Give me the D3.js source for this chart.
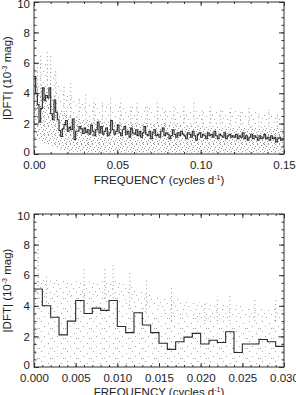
<!DOCTYPE html>
<html>
<head>
<meta charset="utf-8">
<script src="https://cdn.jsdelivr.net/npm/d3@7"></script>
<style>
  body { margin: 0; background: #fff; }
  text { font-family: "Liberation Sans", Arial, sans-serif; fill: #222; }
</style>
</head>
<body>
<div id="chartdiv"></div>
<script>
/* --- data --- */

// binned mean |DFT| per 0.001 cycles/d bin (10^-3 mag)
let binWidth = 0.001
let binValues = [
  5.1, 4.0, 3.25, 2.1, 3.0, 4.35, 3.5, 3.85, 3.7, 4.35,
  2.65, 2.25, 3.55, 2.75, 2.25, 1.55, 1.15, 1.65, 1.95, 2.2,
  1.5, 1.75, 1.6, 2.3, 0.95, 1.5, 1.5, 1.8, 1.65, 1.35,
  1.7, 1.4, 1.6, 1.3, 1.9, 1.5, 1.2, 1.6, 2.1, 1.4,
  1.8, 1.3, 1.5, 1.7, 1.2, 1.4, 2.2, 1.6, 1.3, 1.5,
  1.9, 1.4, 1.2, 1.6, 1.8, 1.3, 1.5, 1.1, 1.7, 1.4,
  1.3, 1.6, 1.2, 1.5, 1.1, 1.4, 1.8, 1.3, 1.2, 1.5,
  1.0, 1.4, 1.6, 1.2, 1.3, 1.1, 1.5, 1.7, 1.2, 1.4,
  1.3, 1.0, 1.2, 1.6, 1.3, 1.1, 1.4, 1.2, 1.5, 1.3,
  1.2, 1.0, 1.4, 1.3, 1.1, 1.5, 1.2, 0.9, 1.3, 1.4,
  1.1, 1.3, 1.2, 1.0, 1.4, 1.2, 1.3, 1.1, 1.5, 1.2,
  1.0, 1.3, 1.2, 1.1, 1.4, 1.0, 1.2, 1.3, 1.1, 1.2,
  1.1, 1.3, 1.0, 1.2, 1.1, 1.4, 1.0, 1.2, 0.9, 1.1,
  1.3, 1.0, 1.2, 1.1, 0.9, 1.2, 1.0, 1.1, 1.3, 1.0,
  1.1, 0.9, 1.2, 1.0, 1.1, 0.8, 1.0, 1.1, 0.9, 1.0
]

// point cloud of the full range panel: dense core and thinner upper part
let cloudFreq   = [0, 0.005, 0.01, 0.015, 0.02, 0.03, 0.04, 0.05, 0.07, 0.09, 0.11, 0.13, 0.15]
let cloudLow    = [1.0, 0.8, 0.6, 0.3, 0.2, 0.1, 0.1, 0.1, 0.1, 0.1, 0.1, 0.1, 0.1]
let cloudHigh   = [4.6, 4.4, 4.2, 3.0, 2.6, 2.3, 2.2, 2.1, 2.0, 1.9, 1.8, 1.8, 1.7]
let cloudTop    = [5.8, 6.0, 5.8, 4.8, 4.0, 3.4, 3.3, 3.2, 3.1, 3.0, 2.9, 2.8, 2.7]

// upper streaks of single points: frequency, low, high
let streakFreq = [0.002, 0.004, 0.008, 0.010, 0.013, 0.018, 0.022, 0.027, 0.031, 0.036,
                  0.041, 0.046, 0.052, 0.058, 0.062, 0.068, 0.074, 0.079, 0.084, 0.090,
                  0.096, 0.101, 0.106, 0.112, 0.118, 0.124, 0.129, 0.135, 0.141, 0.146]
let streakLow  = [3.0, 3.5, 4.0, 4.0, 3.0, 2.5, 2.5, 2.0, 2.0, 2.0,
                  2.0, 2.0, 2.0, 2.0, 2.0, 2.0, 2.0, 2.0, 2.0, 2.0,
                  2.0, 2.0, 2.0, 2.0, 1.9, 1.9, 1.9, 1.8, 1.8, 1.8]
let streakHigh = [6.0, 6.6, 6.8, 6.6, 5.5, 4.6, 4.8, 3.8, 4.0, 3.6,
                  3.4, 3.8, 3.6, 3.2, 3.5, 3.3, 3.6, 3.0, 3.3, 3.2,
                  3.6, 3.0, 3.3, 2.9, 3.2, 2.8, 3.1, 2.7, 2.9, 2.6]

// sparse cloud for the zoomed panel
let zoomCloudFreq = [0, 0.005, 0.010, 0.015, 0.020, 0.025, 0.030]
let zoomCloudLow  = [0.1, 0.1, 0.1, 0.1, 0.1, 0.1, 0.1]
let zoomCloudHigh = [4.8, 4.6, 4.6, 3.6, 3.2, 3.1, 3.0]
let zoomCloudTop  = [5.8, 5.6, 5.6, 4.6, 4.2, 4.0, 3.8]
let zoomStreakFreq = [0.0005, 0.0015, 0.006, 0.0085, 0.0095, 0.0115, 0.0135, 0.0165, 0.0205, 0.022, 0.0235, 0.0265, 0.029]
let zoomStreakLow  = [4.5, 4.0, 4.5, 4.5, 4.5, 4.0, 3.5, 3.0, 3.0, 3.0, 3.0, 3.0, 3.0]
let zoomStreakHigh = [8.3, 6.0, 6.5, 6.6, 6.8, 6.2, 5.8, 5.2, 4.2, 4.6, 4.8, 4.4, 4.5]

let yTicks = [0, 2, 4, 6, 8, 10]
let topXTicks = [0, 0.05, 0.10, 0.15]
let bottomXTicks = [0, 0.005, 0.010, 0.015, 0.020, 0.025, 0.030]

/* -------------------- */

let width = 296
let height = 395
let leftMargin = 34
let plotWidth = 250

let svg = d3.select('#chartdiv')
  .append('svg')
  .attr("width", width)
  .attr("height", height)

let defs = svg.append("defs")

// stipple tiles for the point clouds (dot offsets inside the tile)
function stipple(id, w, h, dots, colour){
  let p = defs.append("pattern").attr("id", id)
    .attr("width", w).attr("height", h).attr("patternUnits", "userSpaceOnUse")
  dots.forEach(d => p.append("rect").attr("x", d[0]).attr("y", d[1])
    .attr("width", 1).attr("height", 1).attr("fill", colour))
}
stipple("dense", 11, 9, [[0,0],[4,0],[8,1],[2,2],[6,3],[10,3],[1,4],[5,5],[9,5],[3,6],[7,7],[0,7],[10,8],[4,8]], "#999")
stipple("thin", 13, 11, [[1,1],[8,2],[4,5],[11,6],[6,9],[2,8]], "#aaa")
stipple("sparse", 13, 10, [[2,1],[9,3],[5,6],[0,8],[11,8]], "#a8a8a8")

function drawPanel(opt){
  let top = opt.top, h = opt.height
  let g = svg.append("g")
  let clipId = "clip" + top
  defs.append("clipPath").attr("id", clipId)
    .append("rect").attr("x", leftMargin).attr("y", top).attr("width", plotWidth).attr("height", h)

  let xscale = d3.scaleLinear().domain([0, opt.xMax]).range([leftMargin, leftMargin + plotWidth])
  let yscale = d3.scaleLinear().domain([0, 10]).range([top + h, top])

  let plot = g.append("g").attr("clip-path", `url(#${clipId})`)

  // point cloud
  let cloud = opt.cloudFreq.map((f, i) => [f, opt.cloudLow[i], opt.cloudHigh[i], opt.cloudTop[i]])
  plot.append("path")
    .attr("d", d3.area().x(d => xscale(d[0])).y0(d => yscale(d[2])).y1(d => yscale(d[3]))(cloud))
    .attr("fill", "url(#thin)")
  plot.append("path")
    .attr("d", d3.area().x(d => xscale(d[0])).y0(d => yscale(d[1])).y1(d => yscale(d[2]))(cloud))
    .attr("fill", `url(#${opt.pattern})`)

  opt.streakFreq.forEach((f, i) => {
    plot.append("line")
      .attr("x1", xscale(f)).attr("x2", xscale(f))
      .attr("y1", yscale(opt.streakLow[i])).attr("y2", yscale(opt.streakHigh[i]))
      .attr("stroke", "#999").attr("stroke-width", 1)
      .attr("stroke-dasharray", "1,3")
  })

  // binned step line
  let nBins = Math.round(opt.xMax / binWidth)
  let steps = binValues.slice(0, nBins).map((v, i) => [i * binWidth, v])
  steps.push([nBins * binWidth, binValues[nBins - 1]])
  plot.append("path")
    .attr("d", d3.line().x(d => xscale(d[0])).y(d => yscale(d[1])).curve(d3.curveStepAfter)(steps))
    .attr("fill", "none").attr("stroke", "#2a2a2a").attr("stroke-width", 1.1)

  // axes, IDL style: inward ticks on all four sides
  let minorX = d3.range(0, opt.xMax + opt.minorStep / 2, opt.minorStep)
  let minorY = d3.range(0, 10.01, 0.5)
  let axes = [
    [d3.axisBottom(xscale).tickValues(opt.xTicks).tickSize(-4).tickFormat(opt.fmt), `translate(0,${top + h})`, "x"],
    [d3.axisBottom(xscale).tickValues(minorX).tickSize(-2).tickFormat(""), `translate(0,${top + h})`],
    [d3.axisTop(xscale).tickValues(opt.xTicks).tickSize(-4).tickFormat(""), `translate(0,${top})`],
    [d3.axisTop(xscale).tickValues(minorX).tickSize(-2).tickFormat(""), `translate(0,${top})`],
    [d3.axisLeft(yscale).tickValues(yTicks).tickSize(-5).tickFormat(d3.format("d")), `translate(${leftMargin},0)`, "y"],
    [d3.axisLeft(yscale).tickValues(minorY).tickSize(-2.5).tickFormat(""), `translate(${leftMargin},0)`],
    [d3.axisRight(yscale).tickValues(yTicks).tickSize(-5).tickFormat(""), `translate(${leftMargin + plotWidth},0)`],
    [d3.axisRight(yscale).tickValues(minorY).tickSize(-2.5).tickFormat(""), `translate(${leftMargin + plotWidth},0)`]
  ]
  axes.forEach(a => {
    let ax = g.append("g").attr("transform", a[1]).call(a[0])
    ax.select(".domain").remove()
    ax.selectAll("line").attr("stroke", "#333")
    ax.selectAll("text").attr("font-size", 11.5).attr("fill", "#222")
      .style("font-family", '"Liberation Sans", Arial, sans-serif')
    if (a[2] == "x") ax.selectAll("text").attr("y", 5).attr("dy", "0.9em")
    if (a[2] == "y") ax.selectAll("text").attr("x", -4)
      .attr("dy", d => d == 0 ? "0.1em" : (d == 10 ? "0.5em" : "0.32em"))
  })
  g.append("rect")
    .attr("x", leftMargin).attr("y", top).attr("width", plotWidth).attr("height", h)
    .attr("fill", "none").attr("stroke", "#333").attr("stroke-width", 1)

  // titles
  let xt = g.append("text")
    .attr("x", leftMargin + plotWidth / 2).attr("y", opt.titleY)
    .attr("text-anchor", "middle").attr("font-size", 11.5)
  xt.append("tspan").text("FREQUENCY (cycles d")
  xt.append("tspan").text("-1").attr("font-size", 7).attr("dy", -4.5)
  xt.append("tspan").text(")").attr("dy", 4.5)

  let yt = g.append("text")
    .attr("transform", `translate(11,${top + h / 2}) rotate(-90)`)
    .attr("text-anchor", "middle").attr("font-size", 11.5)
  yt.append("tspan").text("|DFT| (10")
  yt.append("tspan").text("-3").attr("font-size", 7).attr("dy", -4.5)
  yt.append("tspan").text(" mag)").attr("dy", 4.5)
}

drawPanel({ top: 2, height: 152, xMax: 0.15, xTicks: topXTicks, minorStep: 0.01,
  fmt: d3.format(".2f"), titleY: 184, pattern: "dense",
  cloudFreq, cloudLow, cloudHigh, cloudTop, streakFreq, streakLow, streakHigh })

drawPanel({ top: 214, height: 153, xMax: 0.030, xTicks: bottomXTicks, minorStep: 0.001,
  fmt: d3.format(".3f"), titleY: 396, pattern: "sparse",
  cloudFreq: zoomCloudFreq, cloudLow: zoomCloudLow, cloudHigh: zoomCloudHigh, cloudTop: zoomCloudTop,
  streakFreq: zoomStreakFreq, streakLow: zoomStreakLow, streakHigh: zoomStreakHigh })
</script>
</body>
</html>
